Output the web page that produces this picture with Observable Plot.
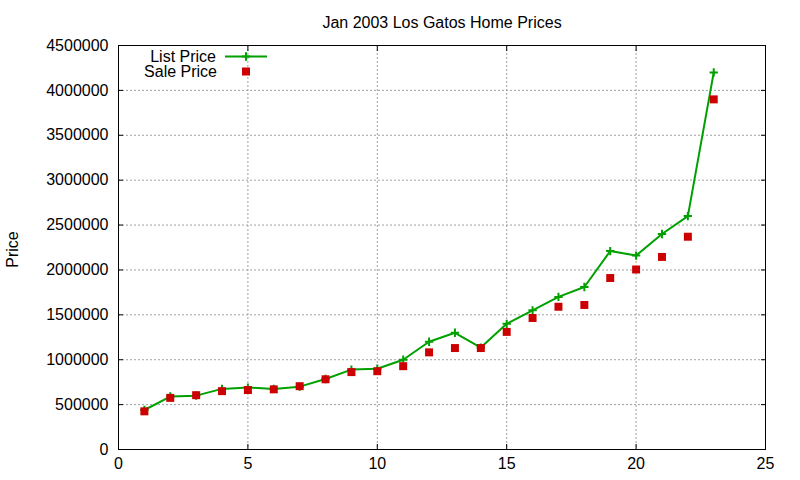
<!DOCTYPE html>
<html><head><meta charset="utf-8">
<script src="https://cdn.jsdelivr.net/npm/d3@7"></script>
<script src="https://cdn.jsdelivr.net/npm/@observablehq/plot@0.6"></script>
<style>
body{margin:0;background:#fff}
#chart svg{font-family:"Liberation Sans",Arial,sans-serif;font-size:16px;background:#fff}
</style>
</head><body><div id="chart"></div>
<script>
const houses = [1,2,3,4,5,6,7,8,9,10,11,12,13,14,15,16,17,18,19,20,21,22,23];
const listPrice = [440000,590000,600000,675000,690000,675000,700000,785000,890000,900000,1000000,1200000,1300000,1135000,1400000,1550000,1700000,1810000,2210000,2160000,2400000,2600000,4200000];
const salePrice = [425000,575000,605000,650000,662000,670000,705000,782000,862000,872000,928000,1082000,1130000,1130000,1310000,1465000,1590000,1610000,1910000,2005000,2145000,2370000,3900000];
const xTicks = [0,5,10,15,20,25];
const yTicks = [0,500000,1000000,1500000,2000000,2500000,3000000,3500000,4000000,4500000];
const title = "Jan 2003 Los Gatos Home Prices";
const yLabel = "Price";
const seriesNames = ["List Price","Sale Price"];
const listColor = "#00a000";
const saleColor = "#cc0000";

const listData = houses.map((h,i)=>({house:h, price:listPrice[i]}));
const saleData = houses.map((h,i)=>({house:h, price:salePrice[i]}));

const fmt = d3.format("d");
const chart = Plot.plot({
  width: 800, height: 480,
  marginLeft: 118, marginRight: 35, marginTop: 45, marginBottom: 31,
  style: {fontFamily: "Liberation Sans, Arial, sans-serif", fontSize: "16px", background: "#fff"},
  x: {domain: [0,25]},
  y: {domain: [0,4500000]},
  marks: [
    Plot.gridX(xTicks, {stroke: "#a0a0a0", strokeOpacity: 1, strokeDasharray: "2,2"}),
    Plot.gridY(yTicks, {stroke: "#a0a0a0", strokeOpacity: 1, strokeDasharray: "2,2"}),
    Plot.axisX({ticks: xTicks, anchor: "bottom", tickSize: 0, tickPadding: 8, tickFormat: fmt, label: null, fill: "#000"}),
    Plot.axisY({ticks: yTicks, anchor: "left", tickSize: 0, tickPadding: 10, tickFormat: fmt, label: null, fill: "#000"}),
    Plot.axisX({ticks: xTicks, anchor: "bottom", tickSize: -5, tickFormat: () => "", label: null}),
    Plot.axisX({ticks: xTicks, anchor: "top", tickSize: -5, tickFormat: () => "", label: null}),
    Plot.axisY({ticks: yTicks, anchor: "left", tickSize: -5, tickFormat: () => "", label: null}),
    Plot.axisY({ticks: yTicks, anchor: "right", tickSize: -5, tickFormat: () => "", label: null}),
    Plot.frame({stroke: "#000"}),
    Plot.line(listData, {x: "house", y: "price", stroke: listColor, strokeWidth: 2}),
    Plot.dot(listData, {x: "house", y: "price", symbol: "plus", r: 2.8, stroke: listColor, strokeWidth: 2}),
    Plot.dot(saleData, {x: "house", y: "price", symbol: "square", r: 4.5, fill: saleColor, stroke: null}),
    Plot.text([title], {frameAnchor: "top", dy: -23, lineAnchor: "middle", textAnchor: "middle", fill: "#000", fontSize: 16}),
    Plot.text([yLabel], {frameAnchor: "left", dx: -106, dy: 2, rotate: -90, textAnchor: "middle", lineAnchor: "middle", fill: "#000", fontSize: 16})
  ]
});
document.getElementById("chart").appendChild(chart);

// legend (inside plot, top-left)
const svg = d3.select(chart);
const lg = svg.append("g").attr("font-size", 16).attr("font-family", "Liberation Sans, Arial, sans-serif");
lg.append("text").attr("x", 216).attr("y", 56).attr("dy", "0.35em").attr("text-anchor", "end").attr("fill", "#000").text(seriesNames[0]);
lg.append("line").attr("x1", 225).attr("x2", 267).attr("y1", 56.5).attr("y2", 56.5).attr("stroke", listColor).attr("stroke-width", 2);
lg.append("path").attr("d", d3.symbol(d3.symbolPlus, Math.PI*2.8*2.8)()).attr("transform", "translate(246,56.5)").attr("stroke", listColor).attr("stroke-width", 2).attr("fill", "none");
lg.append("text").attr("x", 217).attr("y", 71.5).attr("dy", "0.35em").attr("text-anchor", "end").attr("fill", "#000").text(seriesNames[1]);
lg.append("rect").attr("x", 242).attr("y", 67.5).attr("width", 8).attr("height", 8).attr("fill", saleColor);
</script>
</body></html>
